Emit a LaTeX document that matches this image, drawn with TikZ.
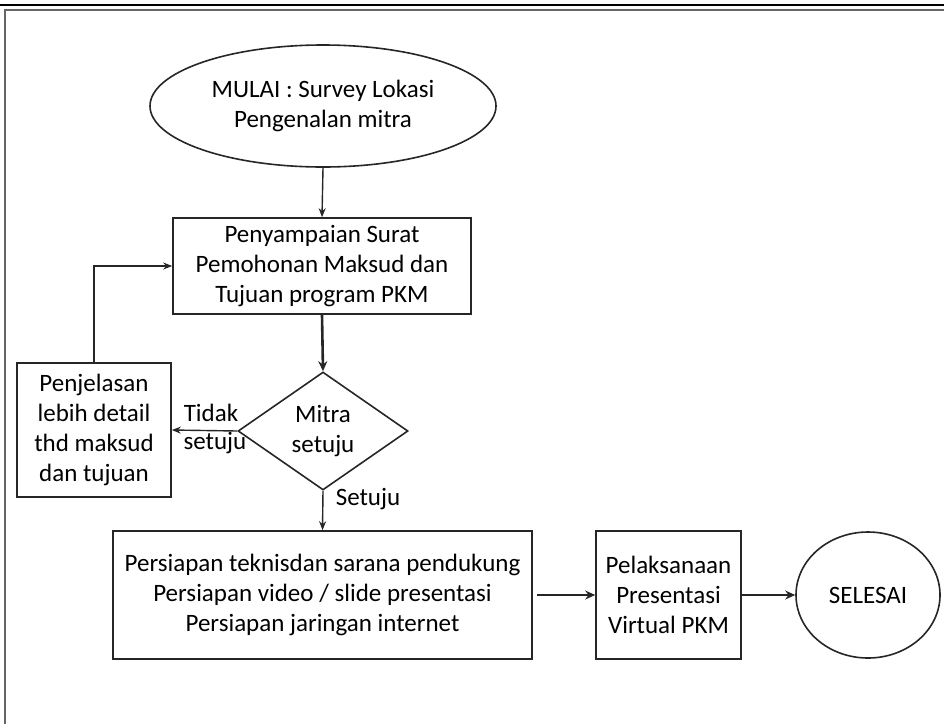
\documentclass[tikz,border=0pt]{standalone}
\usepackage{fontspec}
\setmainfont{Carlito}
\usetikzlibrary{shapes.geometric,arrows.meta}
\begin{document}
\begin{tikzpicture}[x=1pt,y=-1pt,
  every node/.style={font=\fontsize{25}{30}\selectfont, text=black},
  shp/.style={draw=black!85, line width=1.6pt, inner sep=0pt, align=center},
  boxn/.style={shp, rectangle},
  ell/.style={shp, ellipse},
  dia/.style={shp, diamond},
  thin/.style={draw=black!85, line width=1.4pt, -{Stealth[length=9pt,width=7pt]}},
  thick/.style={draw=black!85, line width=2.6pt, -{Stealth[length=10pt,width=9pt]}},
  lbl/.style={inner sep=0pt}]
\useasboundingbox (0,0) rectangle (944,724);
% frame
\draw[line width=2.6pt, black] (0,5) -- (944,5);
\draw[line width=1.4pt, black!60] (944,10) -- (5,10) -- (5,724);
% nodes
\node[ell, minimum width=346pt, minimum height=122pt] (start) at (323,106) {MULAI : Survey Lokasi\\Pengenalan mitra};
\node[boxn, minimum width=298pt, minimum height=96pt] (b1) at (322,266) {Penyampaian Surat\\Pemohonan Maksud dan\\Tujuan program PKM};
\node[dia, minimum width=170pt, minimum height=118pt] (dec) at (323,431) {Mitra\\setuju};
\node[boxn, minimum width=154pt, minimum height=134pt] (lb) at (94,430) {Penjelasan\\lebih detail\\thd maksud\\dan tujuan};
\node[boxn, minimum width=419pt, minimum height=128pt] (b3) at (322.5,595) {Persiapan teknisdan sarana pendukung\\Persiapan video / slide presentasi\\Persiapan jaringan internet};
\node[boxn, minimum width=145pt, minimum height=128pt] (b4) at (668.5,595) {Pelaksanaan\\Presentasi\\Virtual PKM};
\node[ell, minimum width=144pt, minimum height=126pt] (end) at (868,595) {SELESAI};
% labels
\node[lbl] (tidak) at (211,413) {Tidak};
\node[lbl] (setujuL) at (215,443) {setuju};
\node[lbl] (setujuB) at (368,499) {Setuju};
% connectors
\draw[thin] (start.south) -- (b1.north);
\draw[thick] (b1.south) -- (dec.north);
\draw[thin] (dec.west) -- (lb.east);
\draw[thin] (lb.north) |- (b1.west);
\draw[thin] (dec.south) -- (b3.north);
\draw[thick, shorten <=4pt] (b3.east) -- (b4.west);
\draw[thick] (b4.east) -- (end.west);
\end{tikzpicture}
\end{document}
